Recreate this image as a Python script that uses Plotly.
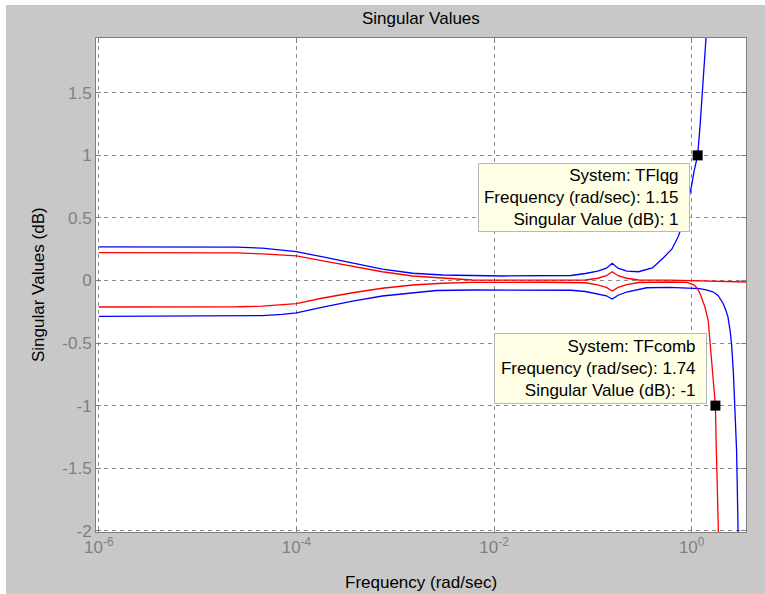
import numpy as np
import plotly.graph_objects as go

# ---- singular value data (dB) ----
# TFlqg, first (upper) singular value
lqg_hi_w = [1e-6, 1e-5, 2.5e-5, 4.5e-5, 7.2e-5, 1e-4, 1.8e-4, 3.7e-4, 7.4e-4, 1.5e-3,
            3e-3, 1.2e-2, 3e-2, 6e-2, 0.084, 0.112, 0.137, 0.157, 0.18, 0.22, 0.29,
            0.4, 0.5, 0.63, 0.73, 0.82, 0.9, 1.0, 1.055, 1.15, 1.22, 1.28, 1.35, 1.4, 1.5]
lqg_hi_sv = [0.268, 0.268, 0.266, 0.258, 0.244, 0.23, 0.19, 0.138, 0.09, 0.058,
             0.044, 0.036, 0.036, 0.04, 0.056, 0.075, 0.098, 0.138, 0.098, 0.075, 0.07,
             0.1, 0.17, 0.25, 0.35, 0.46, 0.6, 0.76, 0.87, 1.0, 1.25, 1.5, 1.75, 1.94, 2.3]

# TFlqg, second (lower) singular value
lqg_lo_w = [1e-6, 1e-5, 2.5e-5, 4.5e-5, 7.2e-5, 1e-4, 1.8e-4, 3.7e-4, 7.4e-4, 1.5e-3,
            2.6e-3, 6e-3, 3e-2, 6e-2, 0.084, 0.112, 0.137, 0.157, 0.18, 0.22, 0.29,
            0.35, 0.6, 1.0, 1.2, 1.4, 1.64, 1.85, 2.07, 2.2, 2.33, 2.45, 2.54, 2.65,
            2.74, 2.85, 2.95, 3.05]
lqg_lo_sv = [-0.286, -0.286, -0.284, -0.28, -0.27, -0.258, -0.215, -0.164, -0.124, -0.098,
             -0.08, -0.076, -0.076, -0.078, -0.088, -0.105, -0.122, -0.148, -0.118, -0.092, -0.07,
             -0.058, -0.055, -0.058, -0.065, -0.075, -0.09, -0.12, -0.18, -0.23, -0.29, -0.4,
             -0.52, -0.75, -1.01, -1.36, -2.0, -2.5]

# TFcomb, first (upper) singular value
comb_hi_w = [1e-6, 1e-5, 2.5e-5, 4.5e-5, 7.2e-5, 1e-4, 1.8e-4, 3.7e-4, 7.4e-4, 1.5e-3,
             3e-3, 6e-3, 3e-2, 6e-2, 0.084, 0.112, 0.137, 0.157, 0.18, 0.22, 0.29,
             0.6, 1.0, 1.5, 3.6]
comb_hi_sv = [0.222, 0.222, 0.22, 0.212, 0.205, 0.196, 0.158, 0.11, 0.07, 0.036,
              0.018, 0.004, 0.003, 0.003, 0.004, 0.018, 0.038, 0.07, 0.038, 0.018, 0.004,
              0.003, 0.0, -0.008, -0.012]

# TFcomb, second (lower) singular value
comb_lo_w = [1e-6, 1e-5, 2.5e-5, 4.5e-5, 7.2e-5, 1e-4, 1.8e-4, 3.7e-4, 7.4e-4, 1.5e-3,
             3e-3, 6e-3, 3e-2, 6e-2, 0.084, 0.112, 0.137, 0.157, 0.18, 0.22, 0.29,
             0.6, 0.9, 1.05, 1.13, 1.21, 1.36, 1.47, 1.58, 1.66, 1.74, 1.77, 1.86, 1.95]
comb_lo_sv = [-0.212, -0.212, -0.21, -0.205, -0.195, -0.185, -0.142, -0.098, -0.062, -0.036,
              -0.022, -0.015, -0.014, -0.014, -0.018, -0.035, -0.055, -0.084, -0.055, -0.033, -0.016,
              -0.012, -0.015, -0.035, -0.06, -0.1, -0.21, -0.32, -0.6, -0.82, -1.0, -1.3, -2.0, -2.6]

# data tips: (system, frequency, singular value)
tip_lqg = ("TFlqg", 1.15, 1)
tip_comb = ("TFcomb", 1.74, -1)

# axis ticks
x_tickvals = [1e-6, 1e-4, 1e-2, 1]
x_ticktext = ["10<sup>-6</sup>", "10<sup>-4</sup>", "10<sup>-2</sup>", "10<sup>0</sup>"]
y_tickvals = [-2, -1.5, -1, -0.5, 0, 0.5, 1, 1.5]
y_ticktext = ["-2", "-1.5", "-1", "-0.5", "0", "0.5", "1", "1.5"]

FONT = "Liberation Sans, Arial, sans-serif"
BLUE = "#0000FF"
RED = "#FF0000"
AXIS_GRAY = "#7F7F7F"
FIG_GRAY = "#C8C8C8"

fig = go.Figure()

for w, sv, col in [(lqg_hi_w, lqg_hi_sv, BLUE), (lqg_lo_w, lqg_lo_sv, BLUE),
                   (comb_hi_w, comb_hi_sv, RED), (comb_lo_w, comb_lo_sv, RED)]:
    fig.add_trace(go.Scatter(x=w, y=sv, mode="lines",
                             line=dict(color=col, width=1.3),
                             hoverinfo="skip", showlegend=False))

for name, f, v in (tip_lqg, tip_comb):
    fig.add_trace(go.Scatter(x=[f], y=[v], mode="markers",
                             marker=dict(symbol="square", size=10, color="black"),
                             hoverinfo="skip", showlegend=False))

W, H = 765, 594
ML, MR, MT, MB = 96, 19, 38, 62
pw, ph = W - ML - MR, H - MT - MB


def px_to_paper_x(px):
    return (px - ML) / pw


def px_to_paper_y(py):
    return (H - MB - py) / ph


shapes = [
    # figure background with a thin white edge on the top and left
    dict(type="rect", xref="paper", yref="paper", layer="below",
         x0=px_to_paper_x(6), x1=px_to_paper_x(W + 2),
         y0=px_to_paper_y(H + 2), y1=px_to_paper_y(5),
         fillcolor=FIG_GRAY, line=dict(width=0)),
    # white axes area
    dict(type="rect", xref="x domain", yref="y domain", layer="below",
         x0=0, x1=1, y0=0, y1=1, fillcolor="white", line=dict(width=0)),
]

annotations = []

# data tips: box placed left of the point, offsets in pixels
PAD = "\u00a0\u00a0"
tip_boxes = [
    (tip_lqg, (208, 65), (-8, -8)),
    (tip_comb, (209, 67), (-8, 73)),
]
for (name, f, v), (bw, bh), (sx, sy) in tip_boxes:
    lines = [f"System: {name}",
             f"Frequency (rad/sec): {f:g}",
             f"Singular Value (dB): {v:g}"]
    txt = "<br>".join(s + PAD for s in lines)
    annotations.append(dict(xref="x", yref="y", x=np.log10(f), y=v,
                            xanchor="right", yanchor="top", align="right",
                            valign="middle", width=bw, height=bh,
                            xshift=sx, yshift=sy, showarrow=False, text=txt,
                            bgcolor="#FFFFE6", bordercolor="#B8B8B8",
                            borderwidth=1, borderpad=1,
                            font=dict(family=FONT, size=17, color="black")))

# title and axis labels
annotations += [
    dict(xref="paper", yref="paper", x=0.5, y=px_to_paper_y(18),
         xanchor="center", yanchor="middle", showarrow=False,
         text="Singular Values", font=dict(family=FONT, size=17, color="black")),
    dict(xref="paper", yref="paper", x=0.5, y=px_to_paper_y(582),
         xanchor="center", yanchor="middle", showarrow=False,
         text="Frequency (rad/sec)", font=dict(family=FONT, size=17, color="black")),
    dict(xref="paper", yref="paper", x=px_to_paper_x(38), y=0.5,
         xanchor="center", yanchor="middle", showarrow=False, textangle=-90,
         text="Singular Values (dB)", font=dict(family=FONT, size=17, color="black")),
]

axis_common = dict(
    showline=True, linecolor=AXIS_GRAY, linewidth=1, mirror="ticks",
    ticks="inside", ticklen=5, tickcolor=AXIS_GRAY, tickwidth=1,
    showgrid=True, gridcolor="#8A8A8A", gridwidth=1, griddash="4px,4px",
    zeroline=False, tickfont=dict(family=FONT, size=17, color="#808080"),
    fixedrange=True,
)

fig.update_layout(
    width=W, height=H,
    margin=dict(l=ML, r=MR, t=MT, b=MB, pad=0),
    paper_bgcolor="white", plot_bgcolor="white",
    xaxis=dict(type="log", range=[-6.029, 0.55],
               tickvals=x_tickvals, ticktext=x_ticktext, **axis_common),
    yaxis=dict(range=[-2.010, 1.938],
               tickvals=y_tickvals, ticktext=y_ticktext, **axis_common),
    shapes=shapes, annotations=annotations,
    showlegend=False,
)

fig.write_html("out.html")
